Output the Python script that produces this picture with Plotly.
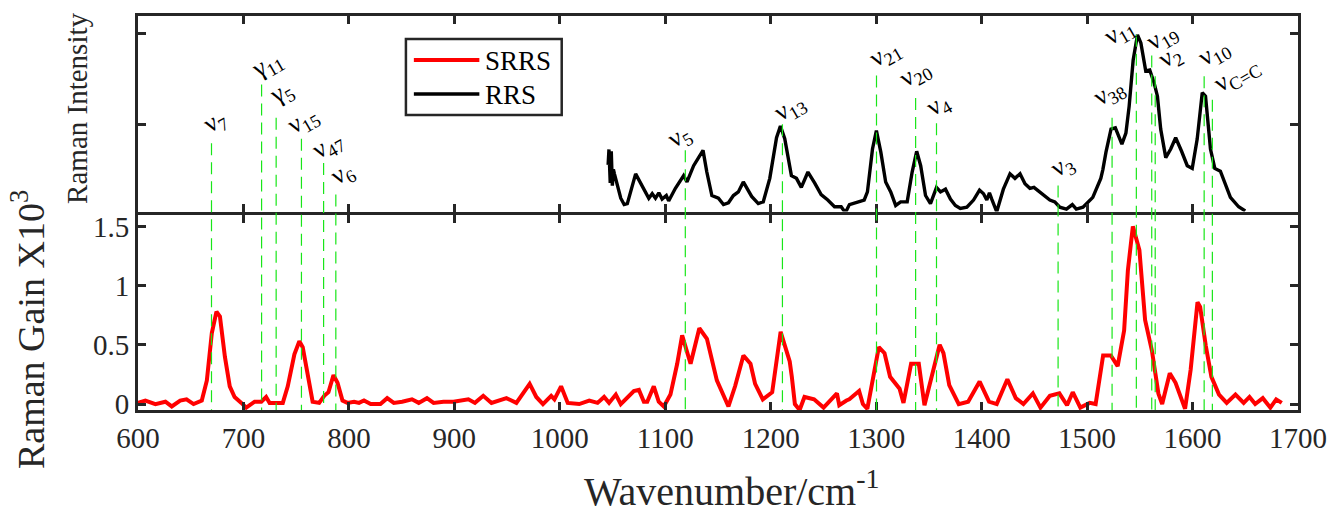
import plotly.graph_objects as go

# ---- spectra -------------------------------------------------------------
srrs_wavenumber = [
    600, 607, 616.5, 626, 632, 640, 646, 652.7, 660.5, 665.3, 670, 674.4, 677.7,
    682.4, 687, 691.6, 698, 702.6, 710.6, 716.9, 721.5, 724.8, 732.5, 737.3, 742,
    748.3, 753, 756.2, 760.9, 765.6, 771.8, 776.6, 780.6, 785.4, 789.2, 793.9,
    798.6, 804.9, 809.6, 814.3, 820.6, 829.9, 836.3, 842.6, 850.5, 859.8, 866.2,
    874, 880.3, 889.7, 899.2, 913.3, 919.5, 927.4, 935.2, 949.4, 958.8, 971.4,
    977.7, 984, 991.8, 994.9, 1001.2, 1007.5, 1018.4, 1027.9, 1035.8, 1042,
    1046.7, 1053.1, 1057.8, 1070.2, 1075, 1079.7, 1082.9, 1089.1, 1093.8, 1098.6,
    1104.9, 1111.3, 1116, 1124, 1132.3, 1139.5, 1148.9, 1153.6, 1159.9, 1166.2,
    1174.1, 1180.8, 1185.2, 1192.5, 1201.4, 1209.4, 1215, 1218, 1220, 1222.9,
    1227.4, 1232, 1241.1, 1250.1, 1262.8, 1265, 1271.8, 1274.5, 1283.8, 1287.4,
    1291.6, 1302.5, 1307.9, 1313.2, 1322.2, 1325.9, 1333.1, 1340.4, 1345.8,
    1354.7, 1360.2, 1363.8, 1369.3, 1378.3, 1387.2, 1398.1, 1407, 1414.3,
    1424.4, 1432.4, 1439.6, 1448.6, 1455.8, 1464.7, 1473.7, 1481, 1486.4,
    1493.6, 1502.5, 1508.1, 1515.2, 1522.5, 1529, 1535.1, 1538.7, 1543.4,
    1549.6, 1555, 1561.5, 1567.6, 1571.2, 1578.4, 1583.9, 1592.9, 1598.2,
    1604.7, 1607.2, 1612.6, 1617.9, 1625.1, 1632.4, 1640.7, 1648.5, 1654,
    1659.4, 1666.6, 1673.8, 1679.3, 1684.6,
]
srrs_gain = [
    0.01, 0.03, 0.0, 0.02, -0.02, 0.03, 0.04, 0.0, 0.03, 0.2, 0.6, 0.78, 0.74,
    0.40, 0.15, 0.06, 0.01, -0.03, 0.02, 0.02, 0.06, 0.01, 0.01, 0.01, 0.15,
    0.42, 0.53, 0.48, 0.25, 0.02, 0.01, 0.07, 0.10, 0.245, 0.18, 0.03,
    0.01, 0.02, 0.01, 0.03, 0.0, 0.0, 0.05, 0.01, 0.02, 0.04, 0.01,
    0.05, 0.01, 0.02, 0.02, 0.04, 0.01, 0.07, 0.01, 0.05, 0.01, 0.17,
    0.06, 0.0, 0.07, 0.04, 0.15, 0.01, 0.0, 0.03, 0.01, 0.06,
    0.01, 0.08, 0.0, 0.11, 0.12, 0.02, 0.02, 0.15, 0.02, -0.02,
    0.08, 0.34, 0.58, 0.34, 0.64, 0.55, 0.20, 0.10, -0.02, 0.15,
    0.41, 0.34, 0.17, 0.04, 0.10, 0.61, 0.45, 0.36, 0.23, 0.0,
    -0.05, 0.06, 0.04, -0.03, 0.09, -0.01, 0.03, 0.04, 0.11, 0.0,
    -0.04, 0.48, 0.43, 0.23, 0.13, 0.01, 0.34, 0.34, -0.01,
    0.29, 0.50, 0.43, 0.16, 0.0, 0.02, 0.19, 0.02, 0.0,
    0.21, 0.05, 0.0, 0.09, -0.03, 0.07, 0.09, -0.01, 0.10,
    -0.03, 0.01, 0.0, 0.41, 0.41, 0.32, 0.62, 1.13, 1.50,
    1.30, 0.71, 0.45, 0.09, 0.0, 0.26, 0.18, -0.04, 0.29,
    0.86, 0.82, 0.49, 0.23, 0.08, 0.01, 0.08, 0.01, 0.06,
    0.0, 0.05, -0.03, 0.04, 0.01,
]

rrs_wavenumber = [
    1045.8, 1046.6, 1047.8, 1048.8, 1049.8, 1050.8, 1051.8, 1057.8, 1061, 1064,
    1071.9, 1078.2, 1084.4, 1087.6, 1090.7, 1093.9, 1097, 1101, 1103.2, 1109.6,
    1117.4, 1120.6, 1126.9, 1135.8, 1139.4, 1144.2, 1150.4, 1155.2, 1159.9,
    1164.6, 1169.3, 1174, 1177.2, 1181.9, 1188.2, 1192.9, 1199.1, 1205.5,
    1209.2, 1213.3, 1219.6, 1224.4, 1229, 1235.3, 1241.6, 1247.8, 1254.1,
    1260.5, 1266.8, 1270.8, 1274.6, 1284, 1288.6, 1291.7, 1296.5, 1300.2,
    1304.4, 1309, 1313.8, 1318.5, 1323.2, 1329.4, 1334.1, 1338.4, 1342.2,
    1346.8, 1351.5, 1357.2, 1361, 1365.7, 1370.4, 1375.1, 1379.8, 1386,
    1392.3, 1398, 1401.8, 1404.9, 1407.4, 1409.6, 1414.3, 1420.6, 1426.9,
    1431.6, 1436.4, 1441.1, 1445.8, 1449.6, 1455.3, 1459.9, 1464.7, 1469.4,
    1474.1, 1480.4, 1486, 1489.8, 1496.1, 1505.4, 1513, 1515, 1517.9, 1522.7,
    1526.8, 1533, 1536.8, 1539.9, 1543.7, 1547.8, 1551, 1555.6, 1559.4,
    1563.5, 1566.7, 1569.8, 1574.6, 1579.3, 1584, 1589.6, 1595, 1599.7,
    1604.4, 1609.2, 1612.3, 1617, 1621.1, 1626.4, 1631.2, 1635.9, 1643.7,
    1650,
]
rrs_intensity = [
    0.55, 0.72, 0.35, 0.70, 0.32, 0.50, 0.45, 0.18, 0.11, 0.12,
    0.45, 0.32, 0.18, 0.23, 0.18, 0.24, 0.17, 0.21, 0.15, 0.29,
    0.43, 0.36, 0.54, 0.71, 0.47, 0.21, 0.18, 0.11, 0.13,
    0.21, 0.25, 0.36, 0.29, 0.20, 0.12, 0.14, 0.40, 0.85,
    0.98, 0.84, 0.43, 0.40, 0.30, 0.47, 0.35, 0.22, 0.16,
    0.085, 0.085, 0.02, 0.11, 0.14, 0.16, 0.25, 0.725, 0.93,
    0.69, 0.36, 0.25, 0.10, 0.14, 0.14, 0.47, 0.70, 0.54,
    0.21, 0.12, 0.30, 0.25, 0.28, 0.17, 0.10, 0.066, 0.08,
    0.16, 0.27, 0.23, 0.16, 0.24, 0.17, 0.03, 0.28, 0.45,
    0.40, 0.45, 0.34, 0.29, 0.30, 0.25, 0.21, 0.16, 0.14,
    0.08, 0.06, 0.11, 0.06, 0.08, 0.19, 0.40, 0.50, 0.69, 0.945,
    0.96, 0.78, 0.90, 1.20, 1.71, 1.99, 1.90, 1.59, 1.60,
    1.46, 1.31, 0.945, 0.63, 0.725, 0.85, 0.70, 0.54, 0.51,
    0.835, 1.35, 1.31, 0.725, 0.51, 0.48, 0.32, 0.19, 0.085,
    0.04,
]

# ---- band assignments ----------------------------------------------------
band_labels = [
    "ν<sub>7</sub>", "γ<sub>11</sub>", "γ<sub>5</sub>", "ν<sub>15</sub>",
    "ν<sub>47</sub>", "ν<sub>6</sub>", "ν<sub>5</sub>", "ν<sub>13</sub>",
    "ν<sub>21</sub>", "ν<sub>20</sub>", "ν<sub>4</sub>", "ν<sub>3</sub>",
    "ν<sub>38</sub>", "ν<sub>11</sub>", "ν<sub>19</sub>", "ν<sub>2</sub>",
    "ν<sub>10</sub>", "ν<sub>C=C</sub>",
]
band_wavenumber = [
    669.7, 717.2, 731, 755, 776, 787.6, 1119, 1211.1,
    1300.3, 1337.4, 1357.2, 1472.5, 1523.7, 1546.7, 1561.3, 1564.6,
    1611, 1618.8,
]

# ---- layout helpers ------------------------------------------------------
FONT = "Liberation Serif"
INK = "#262626"
GREEN = "#19e619"
SRRS_COLOR = "#ff0000"
RRS_COLOR = "#000000"
SRRS_WIDTH = 4
RRS_WIDTH = 3.4
X_RANGE = [600, 1700]
GAIN_RANGE = [-0.05, 1.6]
INT_RANGE = [0.033, 2.198]
AXIS_W = 3
MARGIN = dict(l=138, r=32, t=16, b=104)
FIG_W, FIG_H = 1339, 514
PLOT_W = FIG_W - MARGIN["l"] - MARGIN["r"]
PLOT_H = FIG_H - MARGIN["t"] - MARGIN["b"]
# shift the two panels apart by one axis-line width so that the lower edge
# line of the upper panel and the upper edge line of the lower panel coincide
HALF_GAP = (AXIS_W / 2) / PLOT_H
TOP_DOMAIN = [0.5 + HALF_GAP, 1]
BOTTOM_DOMAIN = [0, 0.5 - HALF_GAP]

# upper end of each marker line (in RRS panel units) and label centre
marker_top = [0.79, 1.44, 1.07, 0.84, 0.57, 0.22, 0.71, 1.0,
              1.54, 1.29, 1.01, 0.32, 1.07, 1.99, 1.76, 1.53, 1.53, 1.27]
label_xy = [
    (673.2, 1.02), (722.2, 1.66), (736.4, 1.34), (756.2, 1.04),
    (779.7, 0.76), (793.9, 0.45), (1113.4, 0.86), (1218.0, 1.18),
    (1308.4, 1.78), (1336.8, 1.56), (1359.3, 1.21), (1477.1, 0.54),
    (1520.5, 1.35), (1530.9, 2.02), (1571.4, 1.97), (1579.0, 1.74),
    (1620.4, 1.79), (1642.0, 1.54),
]


def top_to_paper(v):
    lo, hi = INT_RANGE
    d0, d1 = TOP_DOMAIN
    return d0 + (d1 - d0) * (v - lo) / (hi - lo)


def px_x(px):
    return (px - MARGIN["l"]) / PLOT_W


def px_y(py):
    return (FIG_H - MARGIN["b"] - py) / PLOT_H


fig = go.Figure()

fig.add_trace(go.Scatter(
    x=srrs_wavenumber, y=srrs_gain, mode="lines", name="SRRS",
    line=dict(color=SRRS_COLOR, width=SRRS_WIDTH), xaxis="x", yaxis="y",
    showlegend=False,
))
fig.add_trace(go.Scatter(
    x=rrs_wavenumber, y=rrs_intensity, mode="lines", name="RRS",
    line=dict(color=RRS_COLOR, width=RRS_WIDTH), xaxis="x2", yaxis="y2",
    showlegend=False,
))

shapes = []
for wn, top in zip(band_wavenumber, marker_top):
    shapes.append(dict(
        type="line", xref="x", yref="paper", x0=wn, x1=wn,
        y0=top_to_paper(top), y1=0,
        line=dict(color=GREEN, width=1.2, dash="12px,7px"), layer="above",
    ))

annotations = []
for text, (lx, ly) in zip(band_labels, label_xy):
    annotations.append(dict(
        text=text, x=lx, y=ly, xref="x2", yref="y2", showarrow=False,
        textangle=-30, xanchor="center", yanchor="middle",
        font=dict(family=FONT, size=26, color="#000000"),
    ))

# legend box drawn in paper space
shapes.append(dict(
    type="rect", xref="paper", yref="paper",
    x0=px_x(408), x1=px_x(565), y0=px_y(115), y1=px_y(39),
    line=dict(color=INK, width=2.5), fillcolor="white", layer="above",
))
legend_rows = [("SRRS", SRRS_COLOR, SRRS_WIDTH, 60), ("RRS", RRS_COLOR, RRS_WIDTH, 94)]
for name, color, width, row_y in legend_rows:
    shapes.append(dict(
        type="line", xref="paper", yref="paper",
        x0=px_x(416), x1=px_x(482), y0=px_y(row_y), y1=px_y(row_y),
        line=dict(color=color, width=width), layer="above",
    ))
    annotations.append(dict(
        text=name, x=px_x(486), y=px_y(row_y + 1), xref="paper", yref="paper",
        showarrow=False, xanchor="left", yanchor="middle",
        font=dict(family=FONT, size=27, color="#000000"),
    ))

annotations += [
    dict(text="Wavenumber/cm<sup>-1</sup>", x=0.512, y=-0.20, xref="paper",
         yref="paper", showarrow=False, xanchor="center", yanchor="middle",
         font=dict(family=FONT, size=40, color=INK)),
    dict(text="Raman Gain X10<sup>3</sup>", x=-0.095, y=0.205, xref="paper",
         yref="paper", showarrow=False, textangle=-90, xanchor="center",
         yanchor="middle", font=dict(family=FONT, size=38, color=INK)),
    dict(text="Raman Intensity", x=-0.052, y=0.766, xref="paper",
         yref="paper", showarrow=False, textangle=-90, xanchor="center",
         yanchor="middle", font=dict(family=FONT, size=29, color=INK)),
]

axis_common = dict(
    showline=True, linecolor=INK, linewidth=AXIS_W, mirror="ticks",
    ticks="inside", ticklen=8, tickwidth=3, tickcolor=INK,
    showgrid=False, zeroline=False,
    tickfont=dict(family=FONT, size=29, color=INK),
)

fig.update_layout(
    width=FIG_W, height=FIG_H,
    margin=MARGIN,
    paper_bgcolor="white", plot_bgcolor="white",
    shapes=shapes, annotations=annotations,
    xaxis=dict(axis_common, range=X_RANGE, domain=[0, 1], anchor="y",
               tickvals=list(range(600, 1701, 100))),
    yaxis=dict(axis_common, range=GAIN_RANGE, domain=BOTTOM_DOMAIN, anchor="x",
               tickvals=[0, 0.5, 1, 1.5], ticktext=["0", "0.5", "1", "1.5"]),
    xaxis2=dict(axis_common, range=X_RANGE, domain=[0, 1], anchor="y2",
                matches="x", showticklabels=False,
                tickvals=list(range(600, 1701, 100))),
    yaxis2=dict(axis_common, range=INT_RANGE, domain=TOP_DOMAIN, anchor="x2",
                tickvals=[1, 2], showticklabels=False),
    showlegend=False,
)

fig.write_html("out.html")
